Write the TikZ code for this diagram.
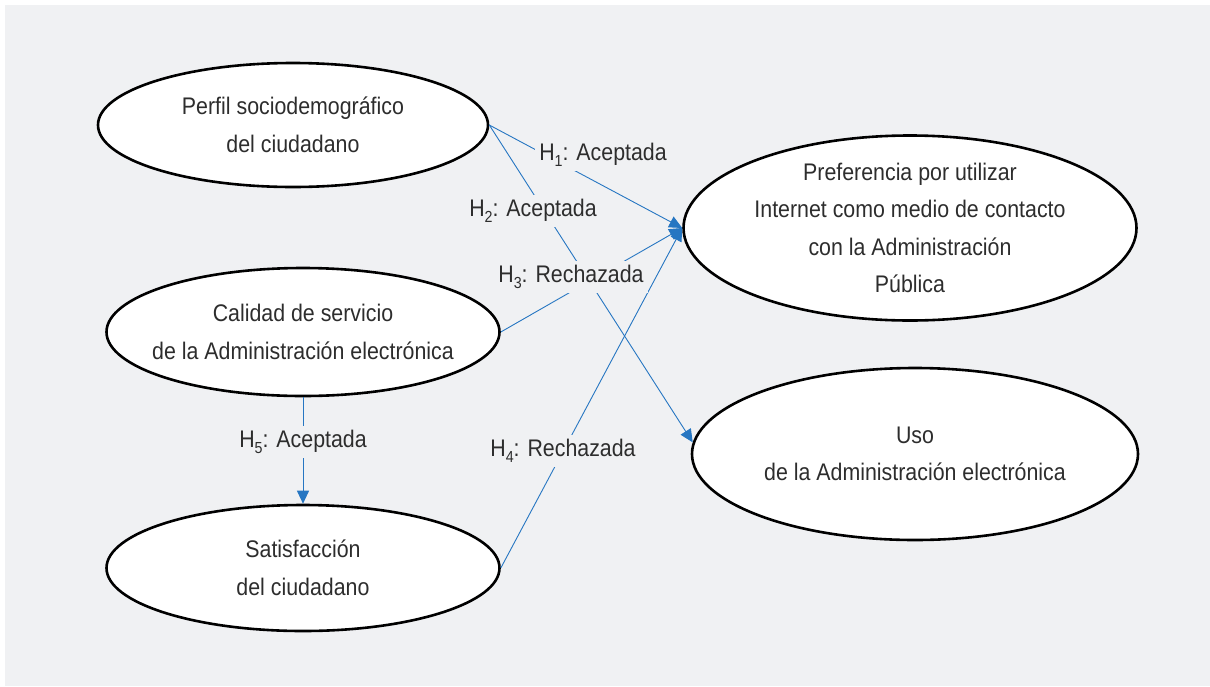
\documentclass[tikz,border=0pt]{standalone}
\usepackage{fontspec}
\setmainfont{Liberation Sans}[FakeStretch=0.89]
\usetikzlibrary{shapes.geometric,arrows.meta}

\definecolor{panelgray}{RGB}{240,241,243}
\definecolor{linkblue}{RGB}{38,118,194}
\definecolor{textgray}{RGB}{45,45,45}

\newcommand{\hsub}[1]{H\raisebox{-0.45ex}{\fontsize{16}{16}\selectfont #1}}

\tikzset{
  construct/.style = {ellipse, draw=black, line width=2.6pt, fill=white,
    inner sep=0pt, inner xsep=-25pt, align=center, text=textgray},
  link/.style = {draw=linkblue, line width=0.9pt},
  linkarrow/.style = {link, -{Triangle[length=13pt,width=12pt]}},
  hyp/.style = {fill=panelgray, inner sep=4pt, text=textgray}
}

\begin{document}
\begin{tikzpicture}[x=1pt,y=-1pt,font=\fontsize{24}{37.5}\selectfont]
  \fill[white] (0,0) rectangle (1210,686);
  \useasboundingbox (0,0) rectangle (1210,686);
  \fill[panelgray] (5,5) rectangle (1210,686);

  % constructs
  \node[construct, minimum width=390pt, minimum height=124pt] (perfil)
    at (293,125) {Perfil sociodemográfico\\del ciudadano};
  \node[construct, minimum width=393pt, minimum height=128pt] (calidad)
    at (303,332) {Calidad de servicio\\de la Administración electrónica};
  \node[construct, minimum width=393pt, minimum height=126pt] (satis)
    at (303,568) {Satisfacción\\del ciudadano};
  \node[construct, minimum width=453pt, minimum height=185pt] (pref)
    at (910,228) {Preferencia por utilizar\\Internet como medio de contacto\\con la Administración\\Pública};
  \node[construct, minimum width=446pt, minimum height=172pt] (uso)
    at (915,454) {Uso\\de la Administración electrónica};

  % hypotheses
  \draw[linkarrow] (perfil.east) -- (pref.west);
  \draw[linkarrow] (perfil.east) -- (uso.177);
  \draw[linkarrow] (calidad.east) -- (pref.west);
  \draw[linkarrow] (satis.east) -- (pref.west);
  \draw[linkarrow] (calidad.south) -- (satis.north);

  \node[hyp] (h1) at (603,155) {\hsub{1}: Aceptada};
  \node[hyp] (h2) at (533,211) {\hsub{2}: Aceptada};
  \node[hyp] (h3) at (571,277) {\hsub{3}: Rechazada};
  \node[hyp] (h4) at (563,451) {\hsub{4}: Rechazada};
  \node[hyp] (h5) at (303,442) {\hsub{5}: Aceptada};
\end{tikzpicture}
\end{document}
